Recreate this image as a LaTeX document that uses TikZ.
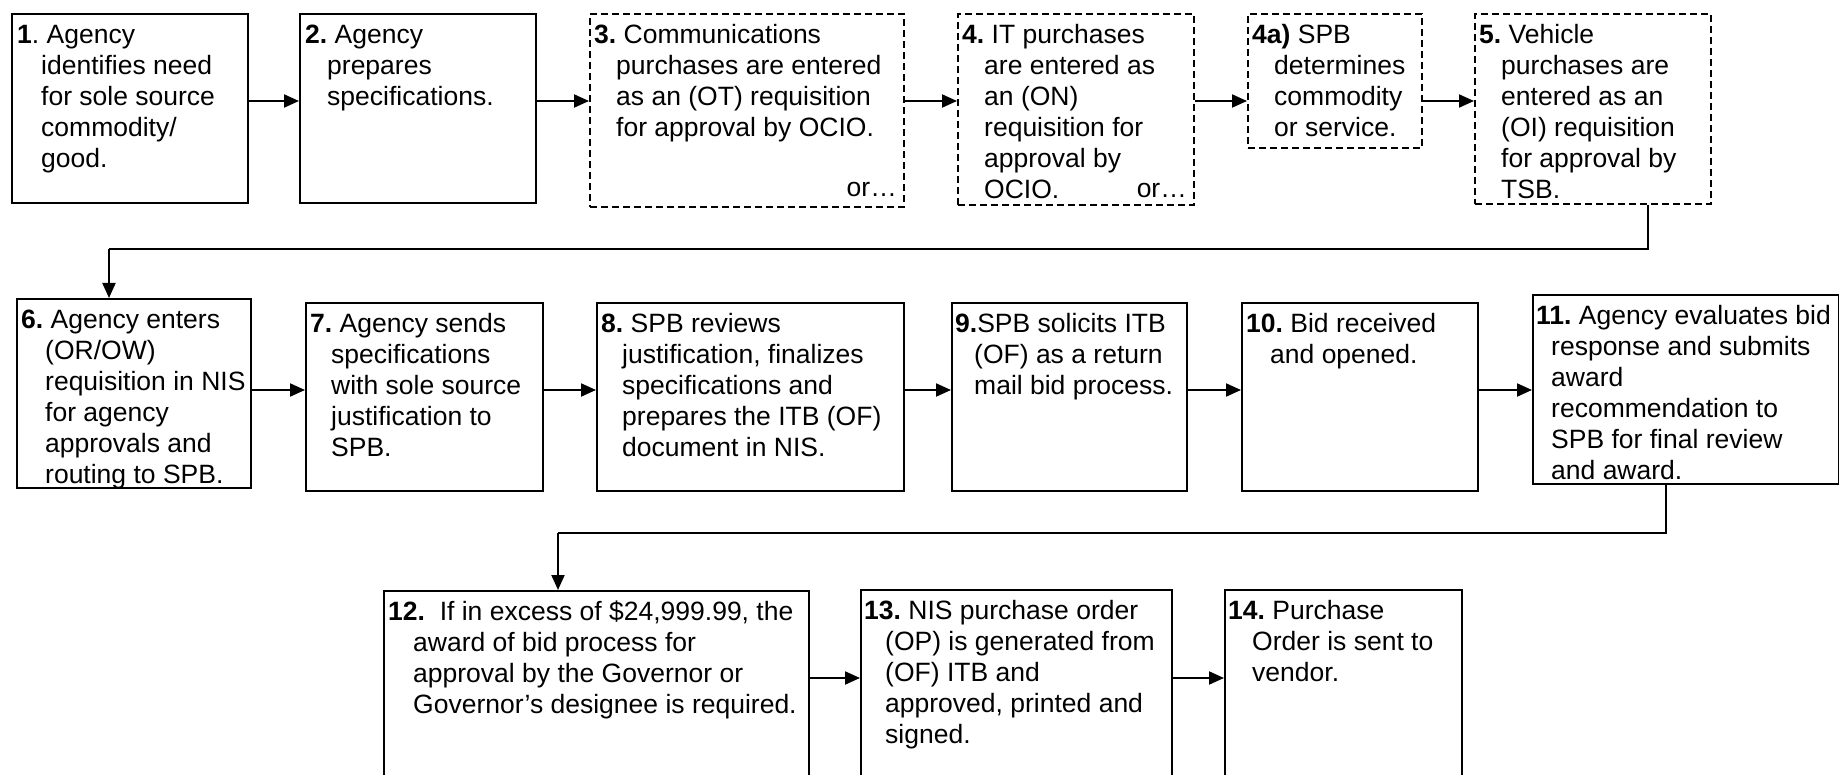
\documentclass[tikz,border=0pt]{standalone}
\usepackage{fontspec}
\setmainfont{Liberation Sans}
\usetikzlibrary{arrows.meta}

% step text: bold number first, later lines hang under the words
\newcommand{\numtext}[3][22pt]{\parbox[t]{480pt}{\frenchspacing\raggedright
  \hangindent=#1\hangafter=1\noindent\strut\textbf{#2}#3\par}}

\begin{document}
\begin{tikzpicture}[x=1pt,y=-1pt,
  box/.style={draw, line width=2pt, inner sep=0pt, anchor=north west},
  dbox/.style={box, dash pattern=on 7pt off 4pt},
  txt/.style={inner sep=0pt, anchor=north west, font=\fontsize{26.5}{31}\selectfont},
  ortxt/.style={inner sep=0pt, anchor=base east, font=\fontsize{26.5}{31}\selectfont},
  arr/.style={line width=2pt, -{Triangle[length=15pt,width=13pt]}},
  link/.style={line width=2pt}]

\useasboundingbox (0,0) rectangle (1839,775);
\clip (0,0) rectangle (1839,775);

% ---------- row 1 ----------
\node[box,  minimum width=236pt, minimum height=189pt] (b1)  at (11,13)   {};
\node[box,  minimum width=236pt, minimum height=189pt] (b2)  at (299,13)  {};
\node[dbox, minimum width=314pt, minimum height=193pt] (b3)  at (589,13)  {};
\node[dbox, minimum width=236pt, minimum height=191pt] (b4)  at (957,13)  {};
\node[dbox, minimum width=174pt, minimum height=134pt] (b4a) at (1247,13) {};
\node[dbox, minimum width=236pt, minimum height=190pt] (b5)  at (1474,13) {};

\node[txt] (t1) at ([shift={(6,8.3)}]b1.north west)
  {\numtext[24pt]{1}{. Agency\newline identifies need\newline for sole source\newline commodity/\newline good.}};
\node[txt] (t2) at ([shift={(6,8.3)}]b2.north west)
  {\numtext{2.}{ Agency\newline prepares\newline specifications.}};
\node[txt] (t3) at ([shift={(5,8.3)}]b3.north west)
  {\numtext{3.}{ Communications\newline purchases are entered\newline as an (OT) requisition\newline for approval by OCIO.}};
\node[ortxt] (o3) at ([shift={(-8,184)}]b3.north east) {or…};
\node[txt] (t4) at ([shift={(5,8.3)}]b4.north west)
  {\numtext{4.}{ IT purchases\newline are entered as\newline an (ON)\newline requisition for\newline approval by\newline OCIO.}};
\node[ortxt] (o4) at ([shift={(-8,185)}]b4.north east) {or…};
\node[txt] (t4a) at ([shift={(5,8.3)}]b4a.north west)
  {\numtext{4a)}{ SPB\newline determines\newline commodity\newline or service.}};
\node[txt] (t5) at ([shift={(5,8.3)}]b5.north west)
  {\numtext{5.}{ Vehicle\newline purchases are\newline entered as an\newline (OI) requisition\newline for approval by\newline TSB.}};

\coordinate (r1) at (0,101);
\draw[arr] (b1.east |- r1)  -- (b2.west |- r1);
\draw[arr] (b2.east |- r1)  -- (b3.west |- r1);
\draw[arr] (b3.east |- r1)  -- (b4.west |- r1);
\draw[arr] (b4.east |- r1)  -- (b4a.west |- r1);
\draw[arr] (b4a.east |- r1) -- (b5.west |- r1);

% ---------- row 2 ----------
\node[box, minimum width=234pt, minimum height=189pt] (b6)  at (16,298)   {};
\node[box, minimum width=237pt, minimum height=188pt] (b7)  at (305,302)  {};
\node[box, minimum width=307pt, minimum height=188pt] (b8)  at (596,302)  {};
\node[box, minimum width=235pt, minimum height=188pt] (b9)  at (951,302)  {};
\node[box, minimum width=236pt, minimum height=188pt] (b10) at (1241,302) {};
\node[box, minimum width=306pt, minimum height=189pt] (b11) at (1532,294) {};

\node[txt] (t6) at ([shift={(5,8.3)}]b6.north west)
  {\numtext[24pt]{6.}{ Agency enters\newline (OR/OW)\newline requisition in NIS\newline for agency\newline approvals and\newline routing to SPB.}};
\node[txt] (t7) at ([shift={(5,8.3)}]b7.north west)
  {\numtext[21pt]{7.}{ Agency sends\newline specifications\newline with sole source\newline justification to\newline SPB.}};
\node[txt] (t8) at ([shift={(5,8.3)}]b8.north west)
  {\numtext[21pt]{8.}{ SPB reviews\newline justification, finalizes\newline specifications and\newline prepares the ITB (OF)\newline document in NIS.}};
\node[txt] (t9) at ([shift={(4,8.3)}]b9.north west)
  {\numtext[19pt]{9.}{SPB solicits ITB\newline (OF) as a return\newline mail bid process.}};
\node[txt] (t10) at ([shift={(5,8.3)}]b10.north west)
  {\numtext[24pt]{10.}{ Bid received\newline and opened.}};
\node[txt] (t11) at ([shift={(4,8.3)}]b11.north west)
  {\numtext[15pt]{11.}{ Agency evaluates bid\newline response and submits\newline award\newline recommendation to\newline SPB for final review\newline and award.}};

\coordinate (r2) at (0,390);
\draw[arr] (b6.east |- r2)  -- (b7.west |- r2);
\draw[arr] (b7.east |- r2)  -- (b8.west |- r2);
\draw[arr] (b8.east |- r2)  -- (b9.west |- r2);
\draw[arr] (b9.east |- r2)  -- (b10.west |- r2);
\draw[arr] (b10.east |- r2) -- (b11.west |- r2);

% ---------- row 3 (boxes run past the lower edge) ----------
\node[box, minimum width=425pt, minimum height=260pt] (b12) at (383,590)  {};
\node[box, minimum width=311pt, minimum height=260pt] (b13) at (860,589)  {};
\node[box, minimum width=237pt, minimum height=260pt] (b14) at (1224,589) {};

\node[txt] (t12) at ([shift={(5,8.3)}]b12.north west)
  {\numtext[25pt]{12.}{\ \ If in excess of \$24,999.99, the\newline award of bid process for\newline approval by the Governor or\newline Governor’s designee is required.}};
\node[txt] (t13) at ([shift={(4,8.3)}]b13.north west)
  {\numtext[21pt]{13.}{ NIS purchase order\newline (OP) is generated from\newline (OF) ITB and\newline approved, printed and\newline signed.}};
\node[txt] (t14) at ([shift={(4,8.3)}]b14.north west)
  {\numtext[24pt]{14.}{ Purchase\newline Order is sent to\newline vendor.}};

\coordinate (r3) at (0,678);
\draw[arr] (b12.east |- r3) -- (b13.west |- r3);
\draw[arr] (b13.east |- r3) -- (b14.west |- r3);

% ---------- row-to-row links ----------
\coordinate (k1) at (1648,249);
\coordinate (k2) at (109,249);
\draw[link] (b5.south -| k1) -- (k1) -- (k2);
\draw[arr] (k2) -- (k2 |- b6.north);

\coordinate (k3) at (1666,533);
\coordinate (k4) at (558,533);
\draw[link] (b11.south -| k3) -- (k3) -- (k4);
\draw[arr] (k4) -- (k4 |- b12.north);
\end{tikzpicture}
\end{document}
